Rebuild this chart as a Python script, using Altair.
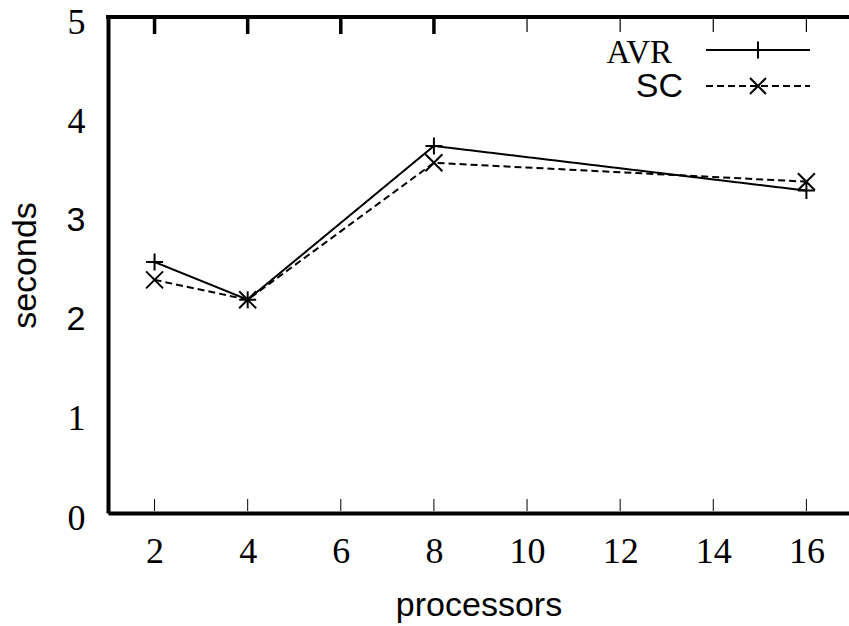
import altair as alt
import pandas as pd

# ---- data ----
processors = [2, 4, 8, 16]
avr_seconds = [2.53, 2.15, 3.70, 3.25]
sc_seconds = [2.35, 2.15, 3.53, 3.34]
series_names = ["AVR", "SC"]
x_tick_values = [2, 4, 6, 8, 10, 12, 14, 16]
y_tick_values = [0, 1, 2, 3, 4, 5]

df = pd.DataFrame({
    "processors": processors * 2,
    "seconds": avr_seconds + sc_seconds,
    "series": [series_names[0]] * len(processors) + [series_names[1]] * len(processors),
})
ticks_df = pd.DataFrame({"processors": x_tick_values})
legend_df = pd.DataFrame({"series": series_names})

W, H = 741, 496
SERIF = "Liberation Serif"
SANS = "Liberation Sans"
PLUS = "M-1,0L1,0M0,-1L0,1"
CROSS = "M-1,-1L1,1M-1,1L1,-1"

x_scale = alt.Scale(domain=[1, 16.915], nice=False, zero=False)
y_scale = alt.Scale(domain=[0, 5], nice=False, zero=False)
dash_scale = alt.Scale(domain=series_names, range=[[1, 0], [7, 4]])
shape_scale = alt.Scale(domain=series_names, range=[PLUS, CROSS])

x_axis = alt.Axis(
    values=x_tick_values, title="processors", grid=False, ticks=False,
    domainWidth=4, domainColor="black",
    labelFont=SERIF, labelFontSize=36, labelColor="black", labelPadding=21,
    titleFont=SANS, titleFontSize=34, titleFontWeight="normal", titleColor="black",
    titleBaseline="alphabetic", titleY=102,
)
y_axis = alt.Axis(
    values=y_tick_values, title="seconds", grid=False, ticks=False,
    domainWidth=4, domainColor="black",
    labelFont={"condition": {"test": "datum.value == 2 || datum.value == 3", "value": SANS},
               "value": SERIF},
    labelFontSize={"condition": {"test": "datum.value == 2 || datum.value == 3", "value": 34},
                   "value": 36},
    labelColor="black", labelPadding=23, labelBaseline="middle",
    labelOffset=5,
    titleFont=SANS, titleFontSize=34, titleFontWeight="normal", titleColor="black",
    titleBaseline="alphabetic", titleAngle=-90, titleAlign="center",
    titleX=-73, titleY=H / 2,
)

X = alt.X("processors:Q", scale=x_scale, axis=x_axis)
Y = alt.Y("seconds:Q", scale=y_scale, axis=y_axis)

lines = alt.Chart(df).mark_line(color="black", strokeWidth=2).encode(
    x=X, y=Y,
    strokeDash=alt.StrokeDash("series:N", scale=dash_scale, legend=None),
    detail="series:N",
)
points = alt.Chart(df).mark_point(
    filled=False, color="black", strokeWidth=2, size=289, opacity=1
).encode(
    x=X, y=Y,
    shape=alt.Shape("series:N", scale=shape_scale, legend=None),
)

bottom_ticks = alt.Chart(ticks_df).mark_rule(color="black", strokeWidth=1).encode(
    x=X, y=alt.value(H - 14), y2=alt.value(H - 2),
)
top_ticks_thick = alt.Chart(ticks_df).transform_filter("datum.processors <= 8").mark_rule(
    color="black", strokeWidth=3.5
).encode(
    x=X, y=alt.value(2), y2=alt.value(17),
)
top_ticks_thin = alt.Chart(ticks_df).transform_filter("datum.processors > 8").mark_rule(
    color="black", strokeWidth=1.2
).encode(
    x=X, y=alt.value(2), y2=alt.value(15),
)
top_border = alt.Chart(legend_df.head(1)).mark_rule(color="black", strokeWidth=4).encode(
    x=alt.value(-2), x2=alt.value(W), y=alt.value(0),
)

# ---- legend (top right, inside the plot) ----
leg_avr = legend_df[legend_df.series == "AVR"]
leg_sc = legend_df[legend_df.series == "SC"]
avr_line = alt.Chart(leg_avr).mark_rule(color="black", strokeWidth=2).encode(
    x=alt.value(598), x2=alt.value(702), y=alt.value(33))
avr_mark = alt.Chart(leg_avr).mark_point(
    filled=False, color="black", strokeWidth=2, size=289, opacity=1, shape=PLUS
).encode(x=alt.value(650), y=alt.value(33))
avr_text = alt.Chart(leg_avr).mark_text(
    font=SERIF, fontSize=33, align="right", baseline="alphabetic", color="black"
).encode(x=alt.value(564), y=alt.value(46), text="series:N")
sc_line = alt.Chart(leg_sc).mark_rule(color="black", strokeWidth=2, strokeDash=[7, 4]).encode(
    x=alt.value(598), x2=alt.value(702), y=alt.value(69))
sc_mark = alt.Chart(leg_sc).mark_point(
    filled=False, color="black", strokeWidth=2, size=256, opacity=1, shape=CROSS
).encode(x=alt.value(650), y=alt.value(69))
sc_text = alt.Chart(leg_sc).mark_text(
    font=SANS, fontSize=34, align="right", baseline="alphabetic", color="black"
).encode(x=alt.value(575), y=alt.value(80), text="series:N")

chart = alt.layer(
    lines, points, bottom_ticks, top_ticks_thick, top_ticks_thin, top_border,
    avr_line, avr_mark, avr_text, sc_line, sc_mark, sc_text,
).properties(
    width=W, height=H,
    padding={"left": 108, "top": 17, "right": 0, "bottom": 113},
    autosize=alt.AutoSizeParams(type="none"),
    background="white",
).configure_view(strokeWidth=0)

chart.save("out.html", embed_options={"renderer": "svg", "actions": False})
